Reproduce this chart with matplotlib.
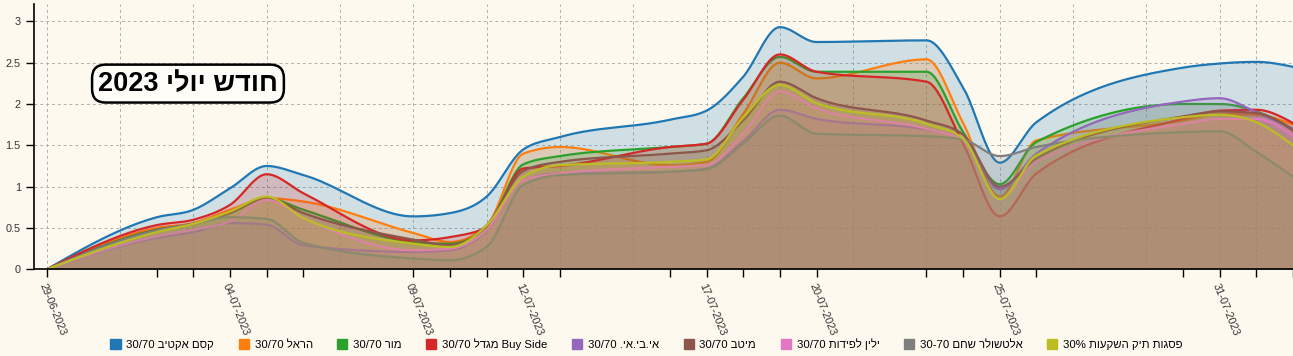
import re
import numpy as np
import pandas as pd
import matplotlib
matplotlib.use('Agg')
import matplotlib.pyplot as plt
import matplotlib.dates as mdates
from matplotlib.patches import Patch

plt.rcParams['font.family'] = ['Liberation Sans', 'DejaVu Sans']

dates = ['29-06-2023', '02-07-2023', '03-07-2023', '04-07-2023', '05-07-2023', '06-07-2023',
         '09-07-2023', '10-07-2023', '11-07-2023', '12-07-2023', '13-07-2023',
         '16-07-2023', '17-07-2023', '18-07-2023', '19-07-2023', '20-07-2023',
         '23-07-2023', '24-07-2023', '25-07-2023', '26-07-2023',
         '30-07-2023', '31-07-2023', '01-08-2023', '02-08-2023']

# legend labels, written in the order they are shown (left to right)
labels = ['30/70 קסם אקטיב', '30/70 הראל', '30/70 מור', '30/70 מגדל Buy Side',
          '30/70 אי.בי.אי.', '30/70 מיטב', '30/70 ילין לפידות',
          '30-70 אלטשולר שחם', '30% פסגות תיק השקעות']

kesem = [0, 0.63, 0.72, 0.98, 1.25, 1.14, 0.64, 0.68, 0.88, 1.45, 1.60, 1.81, 1.92, 2.33,
         2.93, 2.75, 2.77, 2.20, 1.29, 1.78, 2.44, 2.49, 2.51, 2.45]
harel = [0, 0.50, 0.56, 0.72, 0.86, 0.82, 0.44, 0.33, 0.53, 1.40, 1.48, 1.26, 1.30, 1.88,
         2.50, 2.31, 2.54, 1.77, 0.88, 1.56, 1.80, 1.88, 1.87, 1.75]
mor = [0, 0.48, 0.55, 0.68, 0.86, 0.72, 0.33, 0.31, 0.51, 1.27, 1.37, 1.48, 1.52, 2.07,
       2.57, 2.39, 2.39, 1.66, 1.03, 1.54, 2.00, 2.00, 1.91, 1.70]
migdal = [0, 0.535, 0.60, 0.78, 1.15, 0.92, 0.35, 0.39, 0.51, 1.22, 1.25, 1.48, 1.52, 2.05,
          2.60, 2.39, 2.27, 1.52, 0.64, 1.16, 1.82, 1.92, 1.93, 1.77]
ibi = [0, 0.38, 0.45, 0.56, 0.54, 0.29, 0.21, 0.23, 0.47, 1.08, 1.16, 1.18, 1.22, 1.55,
       1.93, 1.82, 1.69, 1.58, 0.97, 1.40, 2.03, 2.07, 1.90, 1.70]
meitav = [0, 0.47, 0.55, 0.68, 0.86, 0.68, 0.36, 0.29, 0.53, 1.19, 1.30, 1.40, 1.44, 1.80,
          2.27, 2.07, 1.80, 1.63, 1.00, 1.34, 1.85, 1.91, 1.89, 1.68]
yelin = [0, 0.40, 0.48, 0.58, 0.84, 0.62, 0.23, 0.25, 0.48, 1.08, 1.16, 1.24, 1.26, 1.64,
         2.15, 1.95, 1.70, 1.56, 0.85, 1.30, 1.76, 1.82, 1.82, 1.62]
altshuler = [0, 0.47, 0.55, 0.63, 0.61, 0.32, 0.13, 0.11, 0.27, 1.02, 1.14, 1.18, 1.21, 1.52,
             1.86, 1.64, 1.61, 1.57, 1.37, 1.48, 1.66, 1.67, 1.42, 1.12]
psagot = [0, 0.45, 0.55, 0.70, 0.88, 0.62, 0.31, 0.27, 0.53, 1.12, 1.26, 1.30, 1.33, 1.84,
          2.23, 2.01, 1.76, 1.58, 0.85, 1.38, 1.84, 1.87, 1.78, 1.50]

series = [kesem, harel, mor, migdal, ibi, meitav, yelin, altshuler, psagot]
colors = ['#1f77b4', '#ff7f0e', '#2ca02c', '#d62728', '#9467bd',
          '#8c564b', '#e377c2', '#7f7f7f', '#bcbd22']

title = 'חודש יולי 2023'


def visual(s, rtl=False):
    # matplotlib has no bidi support: put hebrew runs in visual order
    heb = r'[\u0590-\u05FF]+(?:[ .][\u0590-\u05FF]+)*\.?'
    if not rtl:
        return re.sub(heb, lambda m: m.group(0)[::-1], s)
    out = []
    for p in re.split('(' + heb + ')', s):
        if not p:
            continue
        if re.fullmatch(heb, p):
            out.append(p[::-1])
        else:
            core = p.strip()
            lead = p[:len(p) - len(p.lstrip())]
            trail = p[len(p.rstrip()):]
            out.append(trail + core + lead)
    return ''.join(reversed(out))


def monotone(xs, ys, n=24):
    # same shape as d3.curveMonotoneX
    xs = np.asarray(xs, float)
    ys = np.asarray(ys, float)
    h = np.diff(xs)
    s = np.diff(ys) / h
    t = np.zeros_like(ys)
    for i in range(1, len(ys) - 1):
        p = (s[i - 1] * h[i] + s[i] * h[i - 1]) / (h[i - 1] + h[i])
        t[i] = (np.sign(s[i - 1]) + np.sign(s[i])) * min(abs(s[i - 1]), abs(s[i]), 0.5 * abs(p))
    t[0] = (3 * s[0] - t[1]) / 2
    t[-1] = (3 * s[-1] - t[-2]) / 2
    ox, oy = [], []
    for i in range(len(h)):
        u = np.linspace(0, 1, n, endpoint=False)
        h00 = 2 * u**3 - 3 * u**2 + 1
        h10 = u**3 - 2 * u**2 + u
        h01 = -2 * u**3 + 3 * u**2
        h11 = u**3 - u**2
        ox.append(xs[i] + u * h[i])
        oy.append(h00 * ys[i] + h10 * h[i] * t[i] + h01 * ys[i + 1] + h11 * h[i] * t[i + 1])
    ox.append([xs[-1]])
    oy.append([ys[-1]])
    return np.concatenate(ox), np.concatenate(oy)


bg = '#fdf9ef'
x = pd.to_datetime(dates, format='%d-%m-%Y')
xn = mdates.date2num(x)

fig = plt.figure(figsize=(12.93, 3.56), dpi=100, facecolor=bg)
ax = fig.add_axes([34 / 1293, 1 - 269.3 / 356, 1 - 34 / 1293, 265.3 / 356])
ax.set_facecolor(bg)

for i, (vals, c) in enumerate(zip(series, colors)):
    sx, sy = monotone(xn, vals)
    ax.fill_between(sx, 0, sy, color=c, alpha=0.2, lw=0, zorder=2 + i)
    ax.plot(sx, sy, color=c, lw=1.6, zorder=2 + i, solid_capstyle='round')

ax.set_xlim(xn[0] - 0.35, xn[0] + 33.68)
ax.set_ylim(0, 3.21)
ax.set_yticks(np.arange(0, 3.01, 0.5))
ax.set_yticklabels(['0', '0.5', '1', '1.5', '2', '2.5', '3'])

ax.set_xticks(xn[:-1:3])
ax.set_xticklabels(x[:-1:3].strftime('%d-%m-%Y'), rotation=-68, ha='left', va='top',
                   rotation_mode='anchor')
ax.set_xticks(xn, minor=True)
ax.tick_params(axis='both', which='both', length=6, width=1, colors='black',
               labelsize=7.8, labelcolor='#333333')
ax.tick_params(axis='x', pad=3)

# dashed grid every two days of the month, as the original
grid_days = pd.to_datetime(['29-06-2023', '01-08-2023'], format='%d-%m-%Y').append(
    pd.date_range('2023-07-01', '2023-07-31', freq='2D'))
for g in mdates.date2num(grid_days):
    ax.axvline(g, color='#b0b0b0', lw=0.7, ls=(0, (3, 3)), zorder=1)
for v in np.arange(0.5, 3.01, 0.5):
    ax.axhline(v, color='#b0b0b0', lw=0.7, ls=(0, (3, 3)), zorder=1)

for side in ['top', 'right']:
    ax.spines[side].set_visible(False)
for side in ['left', 'bottom']:
    ax.spines[side].set_color('black')
    ax.spines[side].set_linewidth(1.2)
    ax.spines[side].set_zorder(20)

ax.text(0.1223, 0.700, visual(title, rtl=True), transform=ax.transAxes,
        ha='center', va='center', fontsize=19.5, fontweight='bold', zorder=30,
        bbox=dict(boxstyle='round,pad=0.22,rounding_size=0.5', fc='#fffdf8',
                  ec='black', lw=1.8))

handles = [Patch(facecolor=c, edgecolor=c) for c in colors]
fig.legend(handles, [visual(l) for l in labels], loc='center',
           bbox_to_anchor=(0.5, 12 / 356), ncol=9, frameon=False,
           handlelength=0.9, handleheight=0.9, handletextpad=0.5,
           columnspacing=2.15, fontsize=8.2)

fig.savefig('out.png', dpi=100, facecolor=bg)
